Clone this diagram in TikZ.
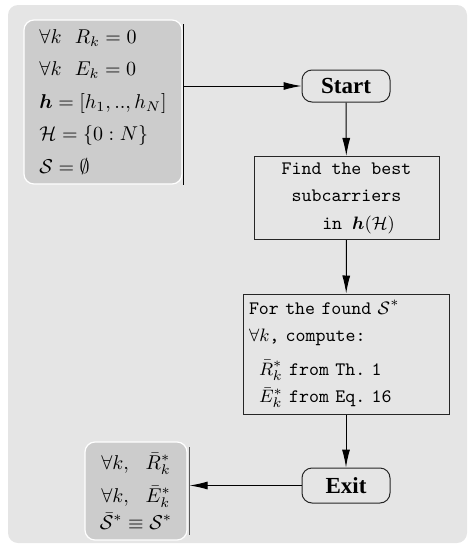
\documentclass[tikz,border=0pt]{standalone}
\usepackage{amsmath}
\usepackage{fontspec}
\newfontfamily\termfont{Liberation Serif}
\usetikzlibrary{arrows.meta}

\begin{document}
\begin{tikzpicture}[x=0.5pt,y=-0.5pt]

\useasboundingbox (0,0) rectangle (467,552);
\fill[gray!20, rounded corners=5pt] (8,5) rectangle (467,543);

\tikzstyle{mathbox}=[fill=gray!40, draw=white, line width=0.6pt, rounded corners=5pt,
inner sep=0pt];
\tikzstyle{term}=[draw=black!85, line width=0.5pt, rounded corners=5pt, minimum width=44pt,
font=\termfont\bfseries\fontsize{11.5}{13}\selectfont];
\tikzstyle{procbox}=[draw=black!85, line width=0.5pt, inner sep=3pt,
font=\ttfamily\frenchspacing\fontsize{9.5}{13.75}\selectfont];
\tikzstyle{flow}=[-{Latex[length=9pt,width=4pt]}, line width=0.5pt];

\node[mathbox, minimum width=79pt, minimum height=82pt, align=left,
font=\fontsize{10}{16.25}\selectfont] (init) at (103,102)
{$\forall k\ \ R_k = 0$ \\ $\forall k\ \ E_k = 0$ \\ $\boldsymbol{h} = [h_1, .., h_N]$ \\
$\mathcal{H} = \{0:N\}$ \\ $\mathcal{S} = \emptyset$};
\node[term, minimum height=16pt] (start) at (346,86) {Start};
\node[procbox, minimum width=92.5pt, minimum height=41pt, align=center] (find) at (346.5,198)
{Find the best \\ subcarriers \\ \hspace*{12pt}in $\boldsymbol{h}(\mathcal{H})$};
\node[procbox, text width=97pt, minimum height=60pt, align=left] (comp) at (346,354)
{For the found $\mathcal{S}^*$ \\ $\forall k$, compute: \\[3pt]
\hspace*{5pt}$\bar{R}_k^*$ from Th. 1 \\ \hspace*{5pt}$\bar{E}_k^*$ from Eq. 16};
\node[term, minimum height=17.5pt] (exit) at (346,485.5) {Exit};
\node[mathbox, minimum width=51pt, minimum height=49pt, align=center,
font=\fontsize{10}{13.5}\selectfont] (res) at (136,491)
{$\forall k,\ \ \bar{R}_k^*$ \\[3pt] $\forall k,\ \ \bar{E}_k^*$ \\ $\bar{\mathcal{S}}^* \equiv \mathcal{S}^*$};

% side bars
\draw[line width=0.7pt] ([xshift=0.5pt,yshift=-2.5pt]init.north east) -- ([xshift=0.5pt]init.south east);
\draw[line width=0.7pt, black!65] ([xshift=1pt,yshift=-3pt]res.north east) -- ([xshift=1pt,yshift=3pt]res.south east);

% lines
\draw[flow] ([xshift=0.5pt]init.east |- start.west) -- (start.west);
\draw[flow] (start) -- (find);
\draw[flow] (find) -- (comp);
\draw[flow] (comp) -- (exit);
\draw[flow] (exit) -- ([xshift=1pt]res.east |- exit.west);

\end{tikzpicture}
\end{document}
